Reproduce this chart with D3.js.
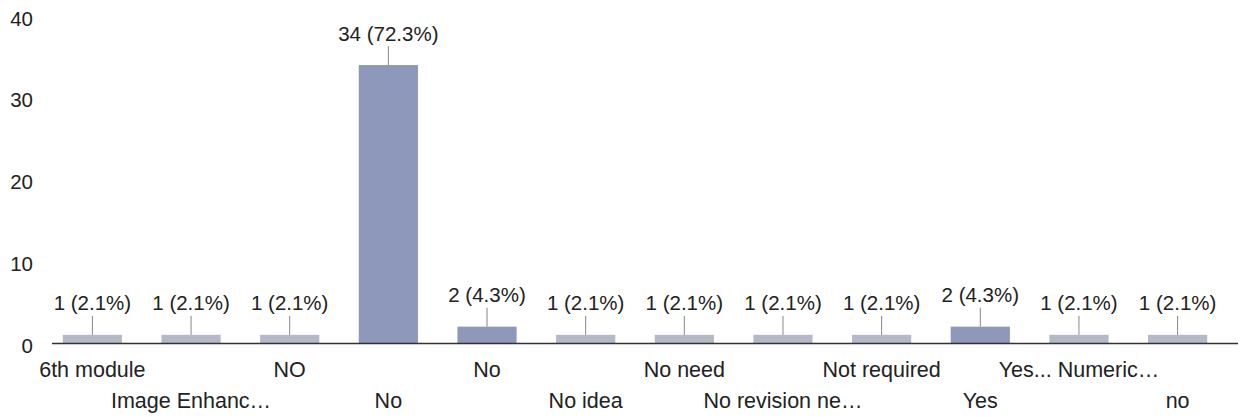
<!DOCTYPE html>
<html><head><meta charset="utf-8">
<script src="https://cdn.jsdelivr.net/npm/d3@7"></script>
<style>body{margin:0;background:#fff}svg{display:block}text{font-family:"Liberation Sans",Arial,sans-serif;fill:#222}</style>
</head><body>
<svg id="c" width="1245" height="417"></svg>
<script>
const categories = ["6th module","Image Enhanc…","NO","No","No","No idea","No need","No revision ne…","Not required","Yes","Yes... Numeric…","no"];
const values = [1,1,1,34,2,1,1,1,1,2,1,1];
const percents = ["2.1%","2.1%","2.1%","72.3%","4.3%","2.1%","2.1%","2.1%","2.1%","4.3%","2.1%","2.1%"];
const yTicks = [0,10,20,30,40];

const svg = d3.select("#c");
const x = d3.scaleBand().domain(d3.range(categories.length)).range([48,1222]).paddingInner(0.40).paddingOuter(0.15);
const y = d3.scaleLinear().domain([0,40]).range([343,16]);
const cx = i => x(i) + x.bandwidth()/2;

// y tick labels
svg.append("g").selectAll("text").data(yTicks).join("text")
  .attr("x",33).attr("y",d=>y(d)+2)
  .attr("text-anchor","end")
  .attr("dominant-baseline","central")
  .attr("font-size",20.5)
  .text(d=>d);

// bars
svg.append("g").selectAll("rect").data(values).join("rect")
  .attr("x",(d,i)=>x(i)).attr("width",x.bandwidth())
  .attr("y",d=>y(d)).attr("height",d=>y(0)-y(d))
  .attr("fill",d=>d>1?"#8e98ba":"#b4b9c8");

// axis line
svg.append("line").attr("x1",52).attr("x2",1238).attr("y1",y(0)+0.5).attr("y2",y(0)+0.5)
  .attr("stroke","#333").attr("stroke-width",1.6);

// leader lines
svg.append("g").selectAll("line").data(values).join("line")
  .attr("x1",(d,i)=>cx(i)).attr("x2",(d,i)=>cx(i))
  .attr("y1",d=>y(d)).attr("y2",d=>y(d)-19)
  .attr("stroke","#888").attr("stroke-width",1);

// value labels
svg.append("g").selectAll("text").data(values).join("text")
  .attr("x",(d,i)=>cx(i)).attr("y",d=>y(d)-32)
  .attr("text-anchor","middle").attr("dominant-baseline","central")
  .attr("font-size",20.5)
  .text((d,i)=>`${d} (${percents[i]})`);

// category labels, alternating rows
svg.append("g").selectAll("text").data(categories).join("text")
  .attr("x",(d,i)=>cx(i)).attr("y",(d,i)=>i%2===0?370:401)
  .attr("text-anchor","middle").attr("dominant-baseline","central")
  .attr("font-size",21.5)
  .text(d=>d);
</script>
</body></html>
